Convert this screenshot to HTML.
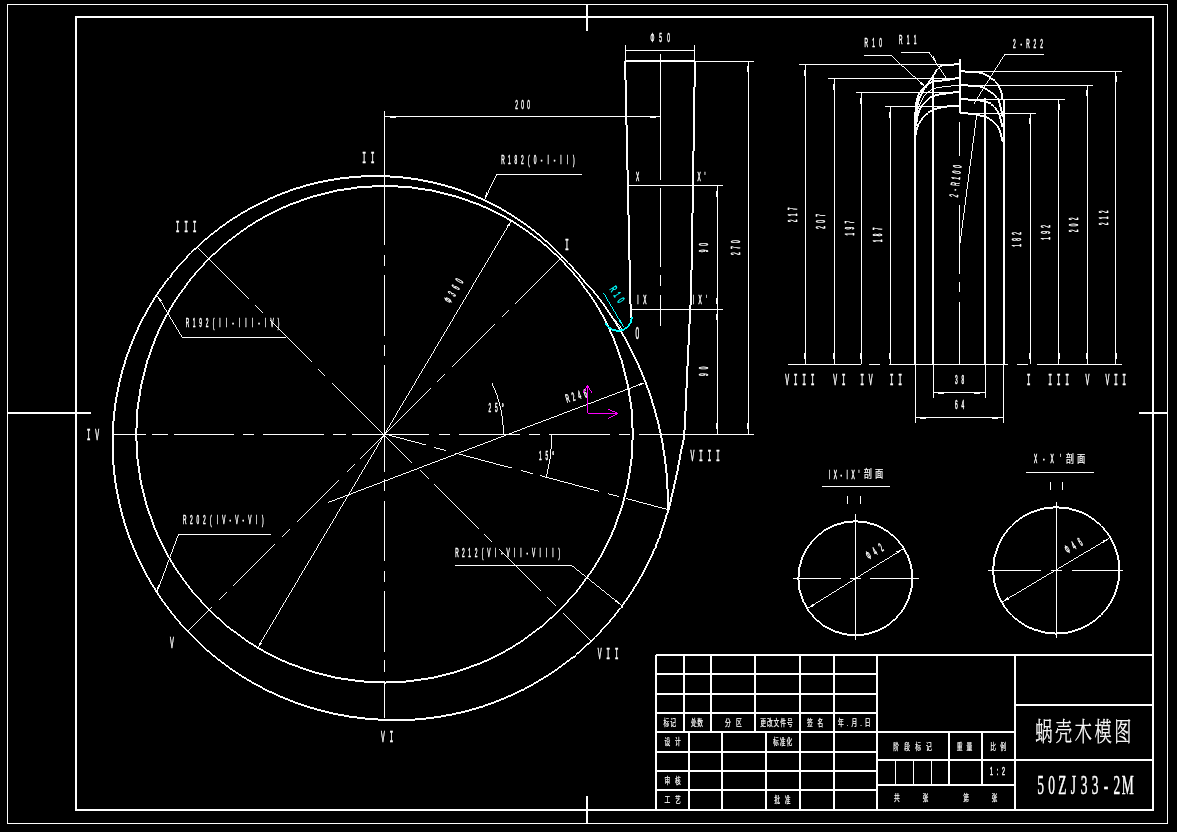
<!DOCTYPE html>
<html lang="zh"><head><meta charset="utf-8"><title>蜗壳木模图 50ZJ33-2M</title>
<style>
html,body{margin:0;padding:0;background:#000;overflow:hidden}
svg{display:block;opacity:.999;will-change:transform}
text{stroke:#fff;stroke-width:.45px;vector-effect:non-scaling-stroke;font-family:"Liberation Sans","Noto Sans CJK SC",sans-serif;fill:#fff;text-anchor:middle}
</style></head><body>
<svg width="1177" height="832" viewBox="0 0 1177 832" fill="none" stroke="#fff" stroke-width="1" shape-rendering="crispEdges">
<rect x="0" y="0" width="1177" height="832" fill="#000" stroke="none"/>
<g id="frame">
<rect x="7.5" y="4.5" width="1160" height="819"/>
<rect x="76" y="17" width="1077" height="793" stroke-width="2"/>
<line x1="8" y1="413" x2="91" y2="413" stroke-width="2"/>
<line x1="1139" y1="413" x2="1168" y2="413" stroke-width="2"/>
<line x1="587" y1="4" x2="587" y2="31" stroke-width="2"/>
<line x1="587" y1="796" x2="587" y2="823" stroke-width="2"/>
</g>
<g id="volute">
<path d="M559.58 609.78 A248.31 248.31 0 0 0 559.58 258.62" stroke-width=".99"/>
<path d="M560.58 609.78 A248.31 248.31 0 0 0 560.58 258.62" stroke-width=".99"/>
<path d="M560.08 258.12 A248.31 248.31 0 0 0 208.92 258.12" stroke-width=".99"/>
<path d="M560.08 259.12 A248.31 248.31 0 0 0 208.92 259.12" stroke-width=".99"/>
<path d="M208.42 258.62 A248.31 248.31 0 0 0 208.42 609.78" stroke-width=".99"/>
<path d="M209.42 258.62 A248.31 248.31 0 0 0 209.42 609.78" stroke-width=".99"/>
<path d="M208.92 609.28 A248.31 248.31 0 0 0 560.08 609.28" stroke-width=".99"/>
<path d="M208.92 610.28 A248.31 248.31 0 0 0 560.08 610.28" stroke-width=".99"/>
<path d="M561.53 256.67 560.29 255.38 558.53 253.56 556.48 251.45 554.33 249.28" stroke-width=".99"/>
<path d="M562.53 256.67 561.29 255.38 559.53 253.56 557.48 251.45 555.33 249.28" stroke-width=".99"/>
<path d="M554.83 248.78 552.81 246.78 550.9 244.96 548.97 243.15 547.03 241.37 545.06 239.61 543.08 237.87 541.08 236.15 539.06 234.44 537.02 232.76 534.96 231.1 532.89 229.46 530.79 227.85 528.68 226.25 526.55 224.68 524.41 223.12 522.24 221.59 520.06 220.09 517.87 218.6 515.66 217.14 513.43 215.69 511.18 214.28 508.92 212.88 506.65 211.51 504.36 210.16 502.05 208.84 499.74 207.54 497.4 206.26 495.05 205.01 492.69 203.78 490.32 202.58 487.93 201.4 485.53 200.24 483.11 199.11 480.68 198.01 478.24 196.93 475.79 195.87 473.33 194.84 470.86 193.84 468.37 192.86 465.87 191.91 463.36 190.98 460.85 190.08 458.32 189.21 455.78 188.36 453.23 187.54 450.67 186.74 448.11 185.98 445.53 185.23 442.94 184.52 440.35 183.83 437.75 183.17 435.14 182.54 432.53 181.93 429.9 181.35 427.27 180.8 424.64 180.27 422 179.77 419.35 179.3 416.69 178.86 414.03 178.45 411.37 178.06 408.7 177.7 406.02 177.37 403.35 177.07 400.66 176.79 397.98 176.55 395.29 176.33 392.59 176.14 389.9 175.97 387.2 175.84 384.5 175.73 381.8 175.66 379.09 175.61 376.39 175.59 373.68 175.59 370.98 175.63 368.27 175.69 365.56 175.78 362.85 175.91 360.14 176.05 357.44 176.23 354.73 176.44 352.03 176.67 349.33 176.94 346.63 177.23 343.93 177.55 341.23 177.9 338.54 178.27 335.85 178.68 333.17 179.11 330.48 179.57 327.81 180.06 325.13 180.58 322.46 181.13 319.8 181.7 317.14 182.3 314.49 182.93 311.84 183.59 309.19 184.28 306.56 184.99 303.93 185.74 301.31 186.51 298.7 187.3 296.09 188.13 293.49 188.98 290.9 189.86 288.32 190.77 285.74 191.71 283.18 192.67 280.62 193.66 278.08 194.68 275.54 195.72 273.02 196.79 270.5 197.89 268 199.01 265.51 200.16 263.03 201.34 260.56 202.54 258.1 203.77 255.65 205.03 253.22 206.31 250.8 207.62 248.39 208.95 245.99 210.31 243.61 211.7 241.25 213.11 238.89 214.54 236.56 216.01 234.23 217.49 231.92 219 229.63 220.54 227.35 222.1 225.09 223.68 222.84 225.29 220.61 226.92 218.39 228.58 216.2 230.26 214.02 231.96 211.85 233.69 209.71 235.44 207.58 237.21 205.47 239 203.38 240.82 201.3 242.66 199.25 244.53 197.21 246.41 195.2 248.32 193.2 250.25 191.22 252.2" stroke-width=".99"/>
<path d="M554.83 249.78 552.81 247.78 550.9 245.96 548.97 244.15 547.03 242.37 545.06 240.61 543.08 238.87 541.08 237.15 539.06 235.44 537.02 233.76 534.96 232.1 532.89 230.46 530.79 228.85 528.68 227.25 526.55 225.68 524.41 224.12 522.24 222.59 520.06 221.09 517.87 219.6 515.66 218.14 513.43 216.69 511.18 215.28 508.92 213.88 506.65 212.51 504.36 211.16 502.05 209.84 499.74 208.54 497.4 207.26 495.05 206.01 492.69 204.78 490.32 203.58 487.93 202.4 485.53 201.24 483.11 200.11 480.68 199.01 478.24 197.93 475.79 196.87 473.33 195.84 470.86 194.84 468.37 193.86 465.87 192.91 463.36 191.98 460.85 191.08 458.32 190.21 455.78 189.36 453.23 188.54 450.67 187.74 448.11 186.98 445.53 186.23 442.94 185.52 440.35 184.83 437.75 184.17 435.14 183.54 432.53 182.93 429.9 182.35 427.27 181.8 424.64 181.27 422 180.77 419.35 180.3 416.69 179.86 414.03 179.45 411.37 179.06 408.7 178.7 406.02 178.37 403.35 178.07 400.66 177.79 397.98 177.55 395.29 177.33 392.59 177.14 389.9 176.97 387.2 176.84 384.5 176.73 381.8 176.66 379.09 176.61 376.39 176.59 373.68 176.59 370.98 176.63 368.27 176.69 365.56 176.78 362.85 176.91 360.14 177.05 357.44 177.23 354.73 177.44 352.03 177.67 349.33 177.94 346.63 178.23 343.93 178.55 341.23 178.9 338.54 179.27 335.85 179.68 333.17 180.11 330.48 180.57 327.81 181.06 325.13 181.58 322.46 182.13 319.8 182.7 317.14 183.3 314.49 183.93 311.84 184.59 309.19 185.28 306.56 185.99 303.93 186.74 301.31 187.51 298.7 188.3 296.09 189.13 293.49 189.98 290.9 190.86 288.32 191.77 285.74 192.71 283.18 193.67 280.62 194.66 278.08 195.68 275.54 196.72 273.02 197.79 270.5 198.89 268 200.01 265.51 201.16 263.03 202.34 260.56 203.54 258.1 204.77 255.65 206.03 253.22 207.31 250.8 208.62 248.39 209.95 245.99 211.31 243.61 212.7 241.25 214.11 238.89 215.54 236.56 217.01 234.23 218.49 231.92 220 229.63 221.54 227.35 223.1 225.09 224.68 222.84 226.29 220.61 227.92 218.39 229.58 216.2 231.26 214.02 232.96 211.85 234.69 209.71 236.44 207.58 238.21 205.47 240 203.38 241.82 201.3 243.66 199.25 245.53 197.21 247.41 195.2 249.32 193.2 251.25 191.22 253.2" stroke-width=".99"/>
<path d="M190.72 252.7 188.76 254.67 186.83 256.66 184.91 258.68 183.01 260.71 181.14 262.77 179.28 264.84 177.45 266.94 175.64 269.05 173.84 271.19 172.08 273.34 170.33 275.51 168.6 277.71 166.9 279.92 165.22 282.15 163.57 284.39 161.93 286.66 160.32 288.94 158.74 291.24 157.17 293.56 155.64 295.9 154.12 298.25 152.63 300.62 151.16 303 149.72 305.4 148.3 307.82 146.91 310.25 145.55 312.7 144.2 315.16 142.89 317.64 141.6 320.13 140.33 322.64 139.09 325.16 137.88 327.69 136.69 330.24 135.53 332.8 134.4 335.38 133.29 337.96 132.21 340.56 131.16 343.17 130.13 345.79 129.13 348.43 128.16 351.07 127.22 353.73 126.3 356.4 125.41 359.07 124.55 361.76 123.72 364.46 122.91 367.16 122.14 369.88 121.39 372.61 120.67 375.34 119.98 378.08 119.31 380.83 118.68 383.59 118.07 386.35 117.49 389.12 116.95 391.9 116.43 394.69 115.94 397.48 115.48 400.28 115.04 403.08 114.64 405.89 114.27 408.7 113.92 411.52 113.61 414.34 113.33 417.17 113.07 420 112.84 422.83 112.65 425.67 112.48 428.51 112.35 431.36 112.24 434.2 112.16 437.05 112.11 439.89 112.1 442.75 112.11 445.6 112.15 448.45 112.22 451.3 112.33 454.15 112.46 457 112.62 459.85 112.81 462.7 113.03 465.55 113.29 468.4 113.57 471.24 113.88 474.09 114.22 476.93 114.59 479.77 114.99 482.6 115.43 485.43 115.89 488.26 116.38 491.08 116.9 493.9 117.45 496.72 118.03 499.53 118.64 502.33 119.28 505.13 119.95 507.92 120.64 510.71 121.37 513.49 122.13 516.27 122.92 519.03 123.73 521.79 124.58 524.54 125.45 527.28 126.35 530.02 127.28 532.74 128.24 535.46 129.23 538.17 130.25 540.87 131.3 543.55 132.37 546.23 133.48 548.9 134.61 551.55 135.77 554.2 136.96 556.83 138.17 559.46 139.41 562.07 140.69 564.66 141.99 567.25 143.31 569.82 144.67 572.38 146.05 574.92 147.45 577.46 148.89 579.98 150.35 582.48 151.84 584.97 153.35 587.44 154.9 589.9 156.46 592.34 158.06 594.77 159.68 597.18 161.32 599.58 162.99 601.95 164.69 604.32 166.41 606.66 168.16 608.99 169.93 611.3 171.72 613.59 173.54 615.86 175.39 618.12 177.26 620.35 179.15 622.57 181.07 624.77 183.01 626.94 184.97 629.1 186.96 631.24 188.97 633.36 191 635.46 193.06 637.54" stroke-width=".99"/>
<path d="M191.72 252.7 189.76 254.67 187.83 256.66 185.91 258.68 184.01 260.71 182.14 262.77 180.28 264.84 178.45 266.94 176.64 269.05 174.84 271.19 173.08 273.34 171.33 275.51 169.6 277.71 167.9 279.92 166.22 282.15 164.57 284.39 162.93 286.66 161.32 288.94 159.74 291.24 158.17 293.56 156.64 295.9 155.12 298.25 153.63 300.62 152.16 303 150.72 305.4 149.3 307.82 147.91 310.25 146.55 312.7 145.2 315.16 143.89 317.64 142.6 320.13 141.33 322.64 140.09 325.16 138.88 327.69 137.69 330.24 136.53 332.8 135.4 335.38 134.29 337.96 133.21 340.56 132.16 343.17 131.13 345.79 130.13 348.43 129.16 351.07 128.22 353.73 127.3 356.4 126.41 359.07 125.55 361.76 124.72 364.46 123.91 367.16 123.14 369.88 122.39 372.61 121.67 375.34 120.98 378.08 120.31 380.83 119.68 383.59 119.07 386.35 118.49 389.12 117.95 391.9 117.43 394.69 116.94 397.48 116.48 400.28 116.04 403.08 115.64 405.89 115.27 408.7 114.92 411.52 114.61 414.34 114.33 417.17 114.07 420 113.84 422.83 113.65 425.67 113.48 428.51 113.35 431.36 113.24 434.2 113.16 437.05 113.11 439.89 113.1 442.75 113.11 445.6 113.15 448.45 113.22 451.3 113.33 454.15 113.46 457 113.62 459.85 113.81 462.7 114.03 465.55 114.29 468.4 114.57 471.24 114.88 474.09 115.22 476.93 115.59 479.77 115.99 482.6 116.43 485.43 116.89 488.26 117.38 491.08 117.9 493.9 118.45 496.72 119.03 499.53 119.64 502.33 120.28 505.13 120.95 507.92 121.64 510.71 122.37 513.49 123.13 516.27 123.92 519.03 124.73 521.79 125.58 524.54 126.45 527.28 127.35 530.02 128.28 532.74 129.24 535.46 130.23 538.17 131.25 540.87 132.3 543.55 133.37 546.23 134.48 548.9 135.61 551.55 136.77 554.2 137.96 556.83 139.17 559.46 140.41 562.07 141.69 564.66 142.99 567.25 144.31 569.82 145.67 572.38 147.05 574.92 148.45 577.46 149.89 579.98 151.35 582.48 152.84 584.97 154.35 587.44 155.9 589.9 157.46 592.34 159.06 594.77 160.68 597.18 162.32 599.58 163.99 601.95 165.69 604.32 167.41 606.66 169.16 608.99 170.93 611.3 172.72 613.59 174.54 615.86 176.39 618.12 178.26 620.35 180.15 622.57 182.07 624.77 184.01 626.94 185.97 629.1 187.96 631.24 189.97 633.36 192 635.46 194.06 637.54" stroke-width=".99"/>
<path d="M193.56 637.04 195.63 639.09 197.73 641.13 199.85 643.14 202 645.13 204.16 647.1 206.35 649.05 208.56 650.97 210.78 652.88 213.03 654.76 215.3 656.61 217.59 658.45 219.9 660.26 222.23 662.04 224.57 663.8 226.94 665.54 229.33 667.26 231.73 668.95 234.15 670.61 236.59 672.25 239.05 673.86 241.53 675.45 244.02 677.02 246.53 678.55 249.06 680.07 251.6 681.55 254.16 683.01 256.74 684.45 259.33 685.85 261.94 687.23 264.56 688.58 267.2 689.91 269.85 691.21 272.52 692.48 275.2 693.72 277.89 694.94 280.6 696.13 283.32 697.28 286.05 698.42 288.8 699.52 291.56 700.59 294.33 701.64 297.11 702.66 299.9 703.64 302.71 704.6 305.53 705.53 308.35 706.43 311.19 707.31 314.03 708.15 316.89 708.96 319.76 709.74 322.63 710.49 325.51 711.22 328.4 711.91 331.3 712.57 334.21 713.2 337.12 713.81 340.04 714.38 342.97 714.92 345.91 715.43 348.85 715.91 351.8 716.36 354.75 716.78 357.7 717.17 360.67 717.52 363.63 717.85 366.61 718.14 369.58 718.41 372.47 718.64 375.27 718.83 378.12 719 381.15 719.14 384.5 719.26 387.19 719.34 390.13 719.41 393.22 719.47 396.35 719.52 399.43 719.55 402.37 719.56 405.05 719.53 408.37 719.44 411.36 719.29 414.17 719.1 416.94 718.87 419.79 718.63 422.73 718.35 425.67 718.05 428.6 717.72 431.53 717.35 434.46 716.95 437.38 716.53 440.3 716.07 443.22 715.58 446.13 715.07 449.03 714.52 451.92 713.94 454.81 713.33 457.7 712.69 460.58 712.02 463.45 711.32 466.31 710.59 469.16 709.83 472.01 709.04 474.85 708.22 477.68 707.37 480.5 706.5 483.31 705.59 486.11 704.65 488.9 703.68 491.68 702.69 494.45 701.66 497.21 700.61 499.96 699.53 502.7 698.41 505.43 697.27 508.14 696.11 510.84 694.91 513.53 693.68 516.2 692.43 518.86 691.15 521.51 689.84 524.15 688.5 526.77 687.14 529.37 685.75 531.96 684.33 534.54 682.88 537.1 681.41 539.65 679.91 542.18 678.39 544.69 676.83 547.19 675.26 549.67 673.65 552.13 672.02 554.58 670.36 557.01 668.68 559.42 666.98 561.81 665.24 564.18 663.49 566.54 661.7 568.88 659.9 571.2 658.07 573.5 656.21 575.78 654.33 578.04 652.43 580.27 650.5 582.49 648.55 584.69 646.58 586.87 644.58 589.03 642.57 591.16 640.53 593.28 638.46 595.37 636.38" stroke-width=".99"/>
<path d="M193.56 638.04 195.63 640.09 197.73 642.13 199.85 644.14 202 646.13 204.16 648.1 206.35 650.05 208.56 651.97 210.78 653.88 213.03 655.76 215.3 657.61 217.59 659.45 219.9 661.26 222.23 663.04 224.57 664.8 226.94 666.54 229.33 668.26 231.73 669.95 234.15 671.61 236.59 673.25 239.05 674.86 241.53 676.45 244.02 678.02 246.53 679.55 249.06 681.07 251.6 682.55 254.16 684.01 256.74 685.45 259.33 686.85 261.94 688.23 264.56 689.58 267.2 690.91 269.85 692.21 272.52 693.48 275.2 694.72 277.89 695.94 280.6 697.13 283.32 698.28 286.05 699.42 288.8 700.52 291.56 701.59 294.33 702.64 297.11 703.66 299.9 704.64 302.71 705.6 305.53 706.53 308.35 707.43 311.19 708.31 314.03 709.15 316.89 709.96 319.76 710.74 322.63 711.49 325.51 712.22 328.4 712.91 331.3 713.57 334.21 714.2 337.12 714.81 340.04 715.38 342.97 715.92 345.91 716.43 348.85 716.91 351.8 717.36 354.75 717.78 357.7 718.17 360.67 718.52 363.63 718.85 366.61 719.14 369.58 719.41 372.47 719.64 375.27 719.83 378.12 720 381.15 720.14 384.5 720.26 387.19 720.34 390.13 720.41 393.22 720.47 396.35 720.52 399.43 720.55 402.37 720.56 405.05 720.53 408.37 720.44 411.36 720.29 414.17 720.1 416.94 719.87 419.79 719.63 422.73 719.35 425.67 719.05 428.6 718.72 431.53 718.35 434.46 717.95 437.38 717.53 440.3 717.07 443.22 716.58 446.13 716.07 449.03 715.52 451.92 714.94 454.81 714.33 457.7 713.69 460.58 713.02 463.45 712.32 466.31 711.59 469.16 710.83 472.01 710.04 474.85 709.22 477.68 708.37 480.5 707.5 483.31 706.59 486.11 705.65 488.9 704.68 491.68 703.69 494.45 702.66 497.21 701.61 499.96 700.53 502.7 699.41 505.43 698.27 508.14 697.11 510.84 695.91 513.53 694.68 516.2 693.43 518.86 692.15 521.51 690.84 524.15 689.5 526.77 688.14 529.37 686.75 531.96 685.33 534.54 683.88 537.1 682.41 539.65 680.91 542.18 679.39 544.69 677.83 547.19 676.26 549.67 674.65 552.13 673.02 554.58 671.36 557.01 669.68 559.42 667.98 561.81 666.24 564.18 664.49 566.54 662.7 568.88 660.9 571.2 659.07 573.5 657.21 575.78 655.33 578.04 653.43 580.27 651.5 582.49 649.55 584.69 647.58 586.87 645.58 589.03 643.57 591.16 641.53 593.28 639.46 595.37 637.38" stroke-width=".99"/>
<path d="M594.87 636.88 596.94 634.77 598.99 632.64 601.01 630.49 603.02 628.32 605 626.13 606.96 623.92 608.89 621.68 610.8 619.43 612.69 617.16 614.55 614.87 616.39 612.55 618.21 610.22 620 607.87 621.76 605.5 623.5 603.12 625.22 600.71 626.91 598.29 628.57 595.85 630.21 593.39 631.82 590.92 633.41 588.42 634.97 585.92 636.51 583.39 638.01 580.85 639.5 578.3 640.95 575.72 642.38 573.14 643.78 570.54 645.15 567.92 646.5 565.29 647.82 562.65 649.11 559.99 650.37 557.32 651.6 554.64 652.81 551.94 653.99 549.23 655.14 546.51 656.26 543.78 657.35 541.03 658.41 538.28 659.45 535.51 660.45 532.73 661.43 529.94 662.4 527.03 663.35 523.99 664.27 521 665.12 518.23 665.87 515.86 666.79 513.44 667.49 511.81 668.4 508.8 668.93 506.67 669.53 504.12 670.17 501.29 670.84 498.29 671.51 495.22 672.17 492.22 672.8 489.4 673.41 486.73 674.01 484.09 674.61 481.48 675.21 478.89 675.79 476.3 676.35 473.7 676.9 471.1 677.42 468.49 677.92 465.88 678.41 463.27 678.88 460.66 679.35 458.05 679.82 455.43 680.3 452.8 680.8 450.34 681.31 448.11 681.83 445.93 682.34 443.63 682.83 441.02 683.29 437.94 683.7 434.2 683.89 432.03 684.06 429.67 684.23 427.14 684.38 424.47 684.53 421.67 684.67 418.78 684.81 415.81 684.94 412.8 685.07 409.76 685.19 406.71 685.32 403.69 685.44 400.72 685.57 397.81 685.7 395 685.84 392.04 685.98 389.1 686.11 386.17 686.24 383.25 686.37 380.34 686.49 377.44 686.62 374.54 686.75 371.63 686.87 368.73 687 365.81 687.13 362.89 687.26 359.95 687.4 357 687.53 354.24 687.66 351.47 687.8 348.69 687.94 345.9 688.08 343.1 688.22 340.3 688.36 337.5 688.5 334.7 688.64 331.9 688.78 329.1 688.92 326.31 689.05 323.53 689.18 320.76 689.3 318 689.43 315.24 689.55 312.82 689.67 310.64 689.78 308.59 689.89 306.59 690 304.52 690.1 302.3 690.21 299.81 690.32 296.97 690.43 293.66 690.55 289.8 690.67 285.28 690.8 280 690.85 277.95 690.89 275.79 690.94 273.54 690.99 271.2 691.04 268.76 691.09 266.24 691.14 263.65 691.19 260.97 691.24 258.23 691.29 255.41 691.34 252.54 691.39 249.6 691.45 246.62 691.5 243.58 691.55 240.5 691.6 237.37 691.66 234.21 691.71 231.02 691.76 227.8 691.82 224.55 691.87 221.29 691.92 218.01 691.98 214.72 692.03 211.43 692.08 208.13 692.14 204.84 692.19 201.55 692.24 198.27 692.3 195.01 692.35 191.77 692.4 188.55 692.45 185.36 692.5 182.21 692.55 179.09 692.6 176.01 692.65 172.98 692.7 170 692.75 167.01 692.8 163.95 692.85 160.82 692.9 157.63 692.95 154.4 693.01 151.11 693.06 147.79 693.11 144.44 693.17 141.05 693.22 137.65 693.27 134.24 693.33 130.82 693.38 127.39 693.43 123.97 693.49 120.57 693.54 117.18 693.59 113.81 693.64 110.48 693.69 107.18 693.74 103.93 693.79 100.72 693.84 97.58 693.89 94.49 693.94 91.47 693.98 88.53 694.03 85.67 694.07 82.9 694.11 80.22 694.15 77.64 694.19 75.17 694.22 72.81 694.26 70.58 694.29 68.46 694.32 66.48 694.35 64.64 694.38 62.95 694.4 61.4" stroke-width=".99"/>
<path d="M595.87 636.88 597.94 634.77 599.99 632.64 602.01 630.49 604.02 628.32 606 626.13 607.96 623.92 609.89 621.68 611.8 619.43 613.69 617.16 615.55 614.87 617.39 612.55 619.21 610.22 621 607.87 622.76 605.5 624.5 603.12 626.22 600.71 627.91 598.29 629.57 595.85 631.21 593.39 632.82 590.92 634.41 588.42 635.97 585.92 637.51 583.39 639.01 580.85 640.5 578.3 641.95 575.72 643.38 573.14 644.78 570.54 646.15 567.92 647.5 565.29 648.82 562.65 650.11 559.99 651.37 557.32 652.6 554.64 653.81 551.94 654.99 549.23 656.14 546.51 657.26 543.78 658.35 541.03 659.41 538.28 660.45 535.51 661.45 532.73 662.43 529.94 663.4 527.03 664.35 523.99 665.27 521 666.12 518.23 666.87 515.86 667.79 513.44 668.49 511.81 669.4 508.8 669.93 506.67 670.53 504.12 671.17 501.29 671.84 498.29 672.51 495.22 673.17 492.22 673.8 489.4 674.41 486.73 675.01 484.09 675.61 481.48 676.21 478.89 676.79 476.3 677.35 473.7 677.9 471.1 678.42 468.49 678.92 465.88 679.41 463.27 679.88 460.66 680.35 458.05 680.82 455.43 681.3 452.8 681.8 450.34 682.31 448.11 682.83 445.93 683.34 443.63 683.83 441.02 684.29 437.94 684.7 434.2 684.89 432.03 685.06 429.67 685.23 427.14 685.38 424.47 685.53 421.67 685.67 418.78 685.81 415.81 685.94 412.8 686.07 409.76 686.19 406.71 686.32 403.69 686.44 400.72 686.57 397.81 686.7 395 686.84 392.04 686.98 389.1 687.11 386.17 687.24 383.25 687.37 380.34 687.49 377.44 687.62 374.54 687.75 371.63 687.87 368.73 688 365.81 688.13 362.89 688.26 359.95 688.4 357 688.53 354.24 688.66 351.47 688.8 348.69 688.94 345.9 689.08 343.1 689.22 340.3 689.36 337.5 689.5 334.7 689.64 331.9 689.78 329.1 689.92 326.31 690.05 323.53 690.18 320.76 690.3 318 690.43 315.24 690.55 312.82 690.67 310.64 690.78 308.59 690.89 306.59 691 304.52 691.1 302.3 691.21 299.81 691.32 296.97 691.43 293.66 691.55 289.8 691.67 285.28 691.8 280 691.85 277.95 691.89 275.79 691.94 273.54 691.99 271.2 692.04 268.76 692.09 266.24 692.14 263.65 692.19 260.97 692.24 258.23 692.29 255.41 692.34 252.54 692.39 249.6 692.45 246.62 692.5 243.58 692.55 240.5 692.6 237.37 692.66 234.21 692.71 231.02 692.76 227.8 692.82 224.55 692.87 221.29 692.92 218.01 692.98 214.72 693.03 211.43 693.08 208.13 693.14 204.84 693.19 201.55 693.24 198.27 693.3 195.01 693.35 191.77 693.4 188.55 693.45 185.36 693.5 182.21 693.55 179.09 693.6 176.01 693.65 172.98 693.7 170 693.75 167.01 693.8 163.95 693.85 160.82 693.9 157.63 693.95 154.4 694.01 151.11 694.06 147.79 694.11 144.44 694.17 141.05 694.22 137.65 694.27 134.24 694.33 130.82 694.38 127.39 694.43 123.97 694.49 120.57 694.54 117.18 694.59 113.81 694.64 110.48 694.69 107.18 694.74 103.93 694.79 100.72 694.84 97.58 694.89 94.49 694.94 91.47 694.98 88.53 695.03 85.67 695.07 82.9 695.11 80.22 695.15 77.64 695.19 75.17 695.22 72.81 695.26 70.58 695.29 68.46 695.32 66.48 695.35 64.64 695.38 62.95 695.4 61.4" stroke-width=".99"/>
<path d="M562 256.7 C565 259.92 573.98 269.17 580 276 C586.02 282.83 592.68 290.88 598.1 297.7 C603.52 304.52 608.5 311.68 612.5 316.9 C616.5 322.12 620.5 326.98 622.1 329" stroke-width="0.99"/>
<path d="M667.34 509.57 A339.8 339.8 0 0 0 567.87 263.13" stroke-width=".99"/>
<path d="M668.34 509.57 A339.8 339.8 0 0 0 568.87 263.13" stroke-width=".99"/>
<path d="M568.37 262.63 A339.8 339.8 0 0 0 562 256.42" stroke-width=".99"/>
<path d="M568.37 263.63 A339.8 339.8 0 0 0 562 257.42" stroke-width=".99"/>
<path d="M624.6 61.4 630.3 317.5" stroke-width=".99"/>
<path d="M625.6 61.4 631.3 317.5" stroke-width=".99"/>
<line x1="625" y1="61.5" x2="754" y2="61.5"/>
<line x1="625" y1="61" x2="695" y2="61" stroke-width="2"/>
<path d="M605.15 323.16 A13.8 13.8 0 0 0 607.74 326.76" stroke-width=".99" stroke="#0ff"/>
<path d="M606.15 323.16 A13.8 13.8 0 0 0 608.74 326.76" stroke-width=".99" stroke="#0ff"/>
<path d="M608.24 326.26 A13.8 13.8 0 0 0 627.76 326.26" stroke-width=".99" stroke="#0ff"/>
<path d="M608.24 327.26 A13.8 13.8 0 0 0 627.76 327.26" stroke-width=".99" stroke="#0ff"/>
<path d="M627.26 326.76 A13.8 13.8 0 0 0 631.3 317" stroke-width=".99" stroke="#0ff"/>
<path d="M628.26 326.76 A13.8 13.8 0 0 0 632.3 317" stroke-width=".99" stroke="#0ff"/>
<line x1="603.5" y1="292.9" x2="623.3" y2="326.5" stroke-width="0.99" stroke="#0ff"/>
<polygon points="623.3,326.5 618.63,321.13 620.87,319.81" fill="#0ff" stroke="none"/>
<text transform="translate(617.3 294.5) rotate(57) scale(0.5 1)" font-size="11" x="-13.6 0 13.6" y="3.74" style='fill:#0ff;stroke:#0ff;'>R10</text>
</g>
<g id="axes">
<line x1="111.5" y1="434.5" x2="145.9" y2="434.5"/>
<line x1="152.3" y1="434.5" x2="168.3" y2="434.5"/>
<line x1="173.9" y1="434.5" x2="233.8" y2="434.5"/>
<line x1="242.7" y1="434.5" x2="254.2" y2="434.5"/>
<line x1="263.1" y1="434.5" x2="324.3" y2="434.5"/>
<line x1="333.2" y1="434.5" x2="346" y2="434.5"/>
<line x1="352.4" y1="434.5" x2="429.3" y2="434.5"/>
<line x1="438.6" y1="434.5" x2="449.7" y2="434.5"/>
<line x1="459" y1="434.5" x2="520.2" y2="434.5"/>
<line x1="528.7" y1="434.5" x2="539.7" y2="434.5"/>
<line x1="549" y1="434.5" x2="609.8" y2="434.5"/>
<line x1="619.1" y1="434.5" x2="629.7" y2="434.5"/>
<line x1="639" y1="434.5" x2="753.7" y2="434.5"/>
<line x1="384.5" y1="110.8" x2="384.5" y2="245.4"/>
<line x1="384.5" y1="255" x2="384.5" y2="265.9"/>
<line x1="384.5" y1="275" x2="384.5" y2="335.5"/>
<line x1="384.5" y1="345" x2="384.5" y2="355.6"/>
<line x1="384.5" y1="365.3" x2="384.5" y2="472.4"/>
<line x1="384.5" y1="479" x2="384.5" y2="490.9"/>
<line x1="384.5" y1="500.7" x2="384.5" y2="561.4"/>
<line x1="384.5" y1="570.5" x2="384.5" y2="582.1"/>
<line x1="384.5" y1="591.2" x2="384.5" y2="651.5"/>
<line x1="384.5" y1="660.4" x2="384.5" y2="672"/>
<line x1="384.5" y1="681.1" x2="384.5" y2="718.4"/>
<line x1="660.5" y1="54" x2="660.5" y2="180"/>
<line x1="660.5" y1="187.5" x2="660.5" y2="267"/>
<line x1="660.5" y1="275" x2="660.5" y2="286"/>
<line x1="660.5" y1="295" x2="660.5" y2="326.2"/>
<line x1="187.57" y1="631.13" x2="211.26" y2="607.44" stroke-width="0.99"/>
<line x1="218.33" y1="600.37" x2="226.32" y2="592.38" stroke-width="0.99"/>
<line x1="232.9" y1="585.8" x2="275.18" y2="543.52" stroke-width="0.99"/>
<line x1="281.83" y1="536.87" x2="289.75" y2="528.95" stroke-width="0.99"/>
<line x1="296.32" y1="522.38" x2="338.61" y2="480.09" stroke-width="0.99"/>
<line x1="346.6" y1="472.1" x2="354.52" y2="464.18" stroke-width="0.99"/>
<line x1="359.75" y1="458.95" x2="430.82" y2="387.88" stroke-width="0.99"/>
<line x1="437.39" y1="381.31" x2="445.38" y2="373.32" stroke-width="0.99"/>
<line x1="451.96" y1="366.74" x2="494.24" y2="324.46" stroke-width="0.99"/>
<line x1="501.38" y1="317.32" x2="508.81" y2="309.89" stroke-width="0.99"/>
<line x1="514.89" y1="303.81" x2="561.28" y2="257.42" stroke-width="0.99"/>
<line x1="197.19" y1="246.89" x2="249.3" y2="299" stroke-width="0.99"/>
<line x1="255.38" y1="305.08" x2="263.3" y2="313" stroke-width="0.99"/>
<line x1="269.95" y1="319.65" x2="312.23" y2="361.93" stroke-width="0.99"/>
<line x1="318.81" y1="368.51" x2="326.73" y2="376.43" stroke-width="0.99"/>
<line x1="332.81" y1="382.51" x2="413.7" y2="463.4" stroke-width="0.99"/>
<line x1="420.63" y1="470.33" x2="428.91" y2="478.61" stroke-width="0.99"/>
<line x1="434.42" y1="484.12" x2="478.69" y2="528.39" stroke-width="0.99"/>
<line x1="484.77" y1="534.47" x2="492.48" y2="542.18" stroke-width="0.99"/>
<line x1="499.05" y1="548.75" x2="540.91" y2="590.61" stroke-width="0.99"/>
<line x1="547.77" y1="597.47" x2="556.04" y2="605.74" stroke-width="0.99"/>
<line x1="562.97" y1="612.67" x2="592.04" y2="641.74" stroke-width="0.99"/>
<line x1="384.5" y1="434.2" x2="426.15" y2="445.28" stroke-width="0.99"/>
<line x1="434.46" y1="447.49" x2="445.57" y2="450.45" stroke-width="0.99"/>
<line x1="455.24" y1="453.02" x2="511.97" y2="468.12" stroke-width="0.99"/>
<line x1="521.05" y1="470.53" x2="532.65" y2="473.62" stroke-width="0.99"/>
<line x1="540.38" y1="475.68" x2="598.55" y2="491.15" stroke-width="0.99"/>
<line x1="608.22" y1="493.73" x2="618.75" y2="496.53" stroke-width="0.99"/>
<line x1="626.38" y1="498.56" x2="668.81" y2="509.85" stroke-width="0.99"/>
<line x1="257.89" y1="647.44" x2="511.11" y2="220.96" stroke-width="0.99"/>
<polygon points="511.11,220.96 509.17,226.78 506.93,225.45" fill="#fff" stroke="none"/>
<polygon points="257.89,647.44 259.83,641.62 262.07,642.95" fill="#fff" stroke="none"/>
<text transform="translate(453.8 290.5) rotate(-60) scale(0.4 1)" font-size="12" x="-27.75 -9.25 9.25 27.75" y="4.08">Φ360</text>
<line x1="328.1" y1="502.5" x2="644" y2="382.9" stroke-width="0.99"/>
<polygon points="644,382.9 638.85,386.25 637.93,383.82" fill="#fff" stroke="none"/>
<text transform="translate(576.4 395.9) rotate(-16) scale(0.4 1)" font-size="12" x="-23.25 -7.75 7.75 23.25" y="4.08">R246</text>
<path d="M503.5 434.2 A119 119 0 0 0 492.09 383.34" stroke-width="0.99"/>
<text transform="translate(496.3 408) scale(0.4 1)" font-size="12" x="-16.25 0 16.25" y="4.08">25°</text>
<path d="M552 434.2 A167.5 167.5 0 0 1 546.29 477.55" stroke-width="0.99"/>
<text transform="translate(546.8 456) scale(0.4 1)" font-size="12" x="-16.25 0 16.25" y="4.08">15°</text>
</g>
<g id="ucs" stroke="#f0f">
<path d="M587.5 384.8 L587.5 413 L617.7 413" stroke-width="0.99"/>
<path d="M582.3 393 L587.5 384.5 L592.7 393" stroke-width="0.99"/>
<path d="M608.2 409 L617.7 413.5 L608.2 418.5" stroke-width="0.99"/>
</g>
<g id="dims">
<line x1="384.5" y1="116.5" x2="660.5" y2="116.5"/>
<rect x="390" y="116" width="6" height="2" fill="#fff" stroke="none"/>
<rect x="650" y="116" width="6" height="2" fill="#fff" stroke="none"/>
<text transform="translate(522.5 104.5) scale(0.4 1)" font-size="12" x="-15 0 15" y="4.08">200</text>
<line x1="625.5" y1="45" x2="625.5" y2="61"/>
<line x1="694.5" y1="45" x2="694.5" y2="61"/>
<line x1="625" y1="50.5" x2="695" y2="50.5"/>
<text transform="translate(660.5 38.3) scale(0.4 1)" font-size="12" x="-20 0 20" y="4.08">Φ50</text>
<line x1="748.5" y1="61.4" x2="748.5" y2="434.2"/>
<rect x="747" y="66" width="2" height="6" fill="#fff" stroke="none"/>
<rect x="747" y="423" width="2" height="6" fill="#fff" stroke="none"/>
<text transform="translate(735.5 247.7) rotate(-90) scale(0.4 1)" font-size="12" x="-15 0 15" y="4.08">270</text>
<line x1="628.4" y1="185.5" x2="722.7" y2="185.5"/>
<line x1="631" y1="309.5" x2="723" y2="309.5"/>
<line x1="717.5" y1="185.6" x2="717.5" y2="434.2"/>
<rect x="716" y="191" width="2" height="6" fill="#fff" stroke="none"/>
<rect x="716" y="298" width="2" height="6" fill="#fff" stroke="none"/>
<rect x="716" y="314" width="2" height="6" fill="#fff" stroke="none"/>
<rect x="716" y="423" width="2" height="6" fill="#fff" stroke="none"/>
<text transform="translate(704 247.7) rotate(-90) scale(0.4 1)" font-size="12" x="-8.19 8.19" y="4.08">90</text>
<text transform="translate(704 371.3) rotate(-90) scale(0.4 1)" font-size="12" x="-8.19 8.19" y="4.08">90</text>
<text transform="translate(637.7 176.6) scale(0.4 1)" font-size="12" x="0" y="4.08">X</text>
<text transform="translate(702 176.6) scale(0.4 1)" font-size="12" x="-7.5 7.5" y="4.08">X'</text>
<text transform="translate(641.3 300.2) scale(0.4 1)" font-size="12" x="-8.75 8.75" y="4.08">IX</text>
<text transform="translate(700 300.2) scale(0.4 1)" font-size="12" x="-16.25 0 16.25" y="4.08">IX'</text>
<text transform="translate(637.2 334) scale(0.4 1)" font-size="16" x="0" y="5.44">0</text>
<text transform="translate(567 245) scale(0.4 1)" font-size="16" x="0" y="5.44" style='font-family:"Liberation Mono",monospace;'>I</text>
<text transform="translate(368.4 158) scale(0.4 1)" font-size="16" x="-10.62 10.62" y="5.44" style='font-family:"Liberation Mono",monospace;'>II</text>
<text transform="translate(186.2 226.4) scale(0.4 1)" font-size="16" x="-21.25 0 21.25" y="5.44" style='font-family:"Liberation Mono",monospace;'>III</text>
<text transform="translate(93 435) scale(0.4 1)" font-size="16" x="-10.62 10.62" y="5.44" style='font-family:"Liberation Mono",monospace;'>IV</text>
<text transform="translate(172 642.7) scale(0.4 1)" font-size="16" x="0" y="5.44" style='font-family:"Liberation Mono",monospace;'>V</text>
<text transform="translate(387.1 736.3) scale(0.4 1)" font-size="16" x="-10.62 10.62" y="5.44" style='font-family:"Liberation Mono",monospace;'>VI</text>
<text transform="translate(608.2 653.5) scale(0.4 1)" font-size="16" x="-21.25 0 21.25" y="5.44" style='font-family:"Liberation Mono",monospace;'>VII</text>
<text transform="translate(705.2 455.1) scale(0.4 1)" font-size="16" x="-31.88 -10.62 10.62 31.88" y="5.44" style='font-family:"Liberation Mono",monospace;'>VIII</text>
<line x1="496" y1="174.5" x2="582" y2="174.5"/>
<line x1="496" y1="174.5" x2="484.5" y2="199" stroke-width="0.99"/>
<polygon points="484.5,199 486.28,192.11 488.63,193.2" fill="#fff" stroke="none"/>
<text transform="translate(538.4 160) scale(0.4 1)" font-size="12" x="-88.69 -72.56 -56.44 -40.31 -24.19 -8.06 8.06 24.19 40.31 56.44 72.56 88.69" y="4.08">R182(0-I-II)</text>
<line x1="182.2" y1="337.5" x2="285.7" y2="337.5"/>
<line x1="182.2" y1="337.5" x2="157.4" y2="295.7" stroke-width="0.99"/>
<polygon points="157.4,295.7 162.08,301.06 159.85,302.39" fill="#fff" stroke="none"/>
<text transform="translate(233 323.1) scale(0.4 1)" font-size="12" x="-113.75 -97.5 -81.25 -65 -48.75 -32.5 -16.25 0 16.25 32.5 48.75 65 81.25 97.5 113.75" y="4.08">R192(II-III-IV)</text>
<line x1="178" y1="534.5" x2="271.3" y2="534.5"/>
<line x1="178" y1="534.5" x2="156.8" y2="591.6" stroke-width="0.99"/>
<polygon points="156.8,591.6 158.01,584.58 160.45,585.49" fill="#fff" stroke="none"/>
<text transform="translate(223.8 520.1) scale(0.4 1)" font-size="12" x="-97.5 -81.25 -65 -48.75 -32.5 -16.25 0 16.25 32.5 48.75 65 81.25 97.5" y="4.08">R202(IV-V-VI)</text>
<line x1="454.8" y1="565.5" x2="571.7" y2="565.5"/>
<line x1="571.7" y1="565.5" x2="620.7" y2="604.7" stroke-width="0.99"/>
<polygon points="620.7,604.7 614.44,601.3 616.08,599.28" fill="#fff" stroke="none"/>
<text transform="translate(508.1 552.5) scale(0.4 1)" font-size="12" x="-128 -112 -96 -80 -64 -48 -32 -16 0 16 32 48 64 80 96 112 128" y="4.08">R212(VI-VII-VIII)</text>
</g>
<g id="section">
<line x1="788" y1="364.5" x2="860.6" y2="364.5"/>
<line x1="869.2" y1="364.5" x2="880" y2="364.5"/>
<line x1="889.3" y1="364.5" x2="1007.9" y2="364.5"/>
<line x1="1017.2" y1="364.5" x2="1027.6" y2="364.5"/>
<line x1="1037" y1="364.5" x2="1122" y2="364.5"/>
<line x1="915" y1="112" x2="915" y2="364.4" stroke-width="2"/>
<line x1="1004" y1="100" x2="1004" y2="364.4" stroke-width="2"/>
<line x1="933" y1="76.3" x2="933" y2="364.4" stroke-width="2"/>
<line x1="985" y1="98" x2="985" y2="364.4" stroke-width="2"/>
<line x1="915.5" y1="364.4" x2="915.5" y2="423.2"/>
<line x1="1003.5" y1="364.4" x2="1003.5" y2="423.2"/>
<line x1="933.5" y1="364.4" x2="933.5" y2="397.6"/>
<line x1="985.5" y1="364.4" x2="985.5" y2="397.6"/>
<line x1="960" y1="59.2" x2="960" y2="113.3" stroke-width="2"/>
<line x1="959.5" y1="121.8" x2="959.5" y2="156.3"/>
<line x1="959.5" y1="204.8" x2="959.5" y2="274.3"/>
<line x1="959.5" y1="282.2" x2="959.5" y2="292"/>
<line x1="959.5" y1="302" x2="959.5" y2="364"/>
<line x1="799.4" y1="64.5" x2="959.5" y2="64.5"/>
<line x1="805.5" y1="64.5" x2="805.5" y2="364.4"/>
<rect x="804" y="70" width="2" height="6" fill="#fff" stroke="none"/>
<rect x="804" y="353" width="2" height="6" fill="#fff" stroke="none"/>
<line x1="828" y1="78.5" x2="959.5" y2="78.5"/>
<line x1="834.5" y1="78.5" x2="834.5" y2="364.4"/>
<rect x="833" y="84" width="2" height="6" fill="#fff" stroke="none"/>
<rect x="833" y="353" width="2" height="6" fill="#fff" stroke="none"/>
<line x1="856.4" y1="92.5" x2="959.5" y2="92.5"/>
<line x1="861.5" y1="92.5" x2="861.5" y2="364.4"/>
<rect x="860" y="98" width="2" height="6" fill="#fff" stroke="none"/>
<rect x="860" y="353" width="2" height="6" fill="#fff" stroke="none"/>
<line x1="885" y1="106.5" x2="959.5" y2="106.5"/>
<line x1="890.5" y1="106.5" x2="890.5" y2="364.4"/>
<rect x="889" y="112" width="2" height="6" fill="#fff" stroke="none"/>
<rect x="889" y="353" width="2" height="6" fill="#fff" stroke="none"/>
<line x1="959.5" y1="71.5" x2="1122" y2="71.5"/>
<line x1="1115.5" y1="71.5" x2="1115.5" y2="364.4"/>
<rect x="1115" y="76" width="2" height="6" fill="#fff" stroke="none"/>
<rect x="1115" y="353" width="2" height="6" fill="#fff" stroke="none"/>
<line x1="959.5" y1="85.5" x2="1092.6" y2="85.5"/>
<line x1="1087.5" y1="85.5" x2="1087.5" y2="364.4"/>
<rect x="1086" y="90" width="2" height="6" fill="#fff" stroke="none"/>
<rect x="1086" y="353" width="2" height="6" fill="#fff" stroke="none"/>
<line x1="959.5" y1="99.5" x2="1064.6" y2="99.5"/>
<line x1="1058.5" y1="99.5" x2="1058.5" y2="364.4"/>
<rect x="1058" y="104" width="2" height="6" fill="#fff" stroke="none"/>
<rect x="1058" y="353" width="2" height="6" fill="#fff" stroke="none"/>
<line x1="959.5" y1="113.5" x2="1035.6" y2="113.5"/>
<line x1="1030.5" y1="113.5" x2="1030.5" y2="364.4"/>
<rect x="1029" y="118" width="2" height="6" fill="#fff" stroke="none"/>
<rect x="1029" y="353" width="2" height="6" fill="#fff" stroke="none"/>
<text transform="translate(792.5 215) rotate(-90) scale(0.4 1)" font-size="12" x="-15 0 15" y="4.08">217</text>
<text transform="translate(821.2 221.3) rotate(-90) scale(0.4 1)" font-size="12" x="-15 0 15" y="4.08">207</text>
<text transform="translate(849.5 228.2) rotate(-90) scale(0.4 1)" font-size="12" x="-15 0 15" y="4.08">197</text>
<text transform="translate(878.2 235) rotate(-90) scale(0.4 1)" font-size="12" x="-15 0 15" y="4.08">187</text>
<text transform="translate(1017.2 239.3) rotate(-90) scale(0.4 1)" font-size="12" x="-15 0 15" y="4.08">182</text>
<text transform="translate(1046 232.4) rotate(-90) scale(0.4 1)" font-size="12" x="-15 0 15" y="4.08">192</text>
<text transform="translate(1074.3 224.8) rotate(-90) scale(0.4 1)" font-size="12" x="-15 0 15" y="4.08">202</text>
<text transform="translate(1103.7 217.8) rotate(-90) scale(0.4 1)" font-size="12" x="-15 0 15" y="4.08">212</text>
<path d="M959.5 63.8 958.29 63.85 956.61 63.91 954.6 63.97 952.41 64.05 950.18 64.15 948.03 64.27 946.13 64.42 944.6 64.6 942.52 64.93 941.16 65.28 940.07 65.88 938.8 67" stroke-width=".99"/>
<path d="M959.5 64.8 958.29 64.85 956.61 64.91 954.6 64.97 952.41 65.05 950.18 65.15 948.03 65.27 946.13 65.42 944.6 65.6 942.52 65.93 941.16 66.28 940.07 66.88 938.8 68" stroke-width=".99"/>
<path d="M938.3 67.5 937.28 68.64 936.23 70.07 935.17 71.68 934.11 73.39 933.05 75.09 932 76.7 930.93 78.29 929.84 79.97 928.75 81.64 927.69 83.23 926.7 84.64 925.8 85.8" stroke-width=".99"/>
<path d="M939.3 67.5 938.28 68.64 937.23 70.07 936.17 71.68 935.11 73.39 934.05 75.09 933 76.7 931.93 78.29 930.84 79.97 929.75 81.64 928.69 83.23 927.7 84.64 926.8 85.8" stroke-width=".99"/>
<path d="M926.3 85.3 924.84 86.55 923.64 87.11 922.4 88.2" stroke-width=".99"/>
<path d="M926.3 86.3 924.84 87.55 923.64 88.11 922.4 89.2" stroke-width=".99"/>
<path d="M921.9 88.7 921.03 89.93 920.09 91.44 919.17 93.1 918.31 94.79 917.6 96.4 916.92 98.32 916.41 100.24 916.02 102.14 915.7 104 915.46 105.96 915.33 107.97 915.26 109.76 915.2 111" stroke-width=".99"/>
<path d="M922.9 88.7 922.03 89.93 921.09 91.44 920.17 93.1 919.31 94.79 918.6 96.4 917.92 98.32 917.41 100.24 917.02 102.14 916.7 104 916.46 105.96 916.33 107.97 916.26 109.76 916.2 111" stroke-width=".99"/>
<path d="M959.5 77.2 958.33 77.41 956.75 77.7 954.86 78.05 952.79 78.43 950.63 78.81 948.5 79.18 946.5 79.5 944.54 79.76 942.49 79.97 940.41 80.15 938.36 80.35 936.4 80.59 934.59 80.9 933 81.3 931.16 81.99 929.66 82.77 928.37 83.68 927.19 84.74" stroke-width=".99"/>
<path d="M959.5 78.2 958.33 78.41 956.75 78.7 954.86 79.05 952.79 79.43 950.63 79.81 948.5 80.18 946.5 80.5 944.54 80.76 942.49 80.97 940.41 81.15 938.36 81.35 936.4 81.59 934.59 81.9 933 82.3 931.16 82.99 929.66 83.77 928.37 84.68 927.19 85.74" stroke-width=".99"/>
<path d="M926.69 85.24 925.5 86.5 924.48 87.73 923.5 89.13 922.56 90.64 921.67 92.23 920.85 93.83 920.1 95.4 919.43 96.94 918.84 98.5 918.32 100.07 917.84 101.67 917.41 103.31 917 105 916.62 106.88 916.27 108.97 915.96 111.1 915.69 113.1 915.47 114.79 915.3 116" stroke-width=".99"/>
<path d="M927.69 85.24 926.5 86.5 925.48 87.73 924.5 89.13 923.56 90.64 922.67 92.23 921.85 93.83 921.1 95.4 920.43 96.94 919.84 98.5 919.32 100.07 918.84 101.67 918.41 103.31 918 105 917.62 106.88 917.27 108.97 916.96 111.1 916.69 113.1 916.47 114.79 916.3 116" stroke-width=".99"/>
<path d="M959.5 85.4 C957.25 85.58 950.42 85.9 946 86.5 C941.58 87.1 936.5 87.58 933 89 C929.5 90.42 927.17 92.5 925 95 C922.83 97.5 921.33 101 920 104 C918.67 107 917.7 110.17 917 113 C916.3 115.83 916 119.67 915.8 121" stroke-width="0.99"/>
<path d="M959.5 91.2 958.28 91.36 956.61 91.56 954.63 91.81 952.46 92.09 950.21 92.38 948.02 92.69 946 93 944.06 93.3 942.05 93.6 940.03 93.92 938.06 94.25 936.19 94.62 934.49 95.03 933 95.5 930.97 96.49 929.45 97.64 928.21 98.85 927 100 925.41 101.41 924.03 102.78" stroke-width=".99"/>
<path d="M959.5 92.2 958.28 92.36 956.61 92.56 954.63 92.81 952.46 93.09 950.21 93.38 948.02 93.69 946 94 944.06 94.3 942.05 94.6 940.03 94.92 938.06 95.25 936.19 95.62 934.49 96.03 933 96.5 930.97 97.49 929.45 98.64 928.21 99.85 927 101 925.41 102.41 924.03 103.78" stroke-width=".99"/>
<path d="M923.53 103.28 922.3 104.7 921.23 106.2 920.31 107.74 919.5 109.3 918.78 110.79 918.16 112.29 917.6 114 917.2 115.54 916.84 117.26 916.5 118.99 916.2 120.6 915.83 122.69 915.51 124.64 915.3 126" stroke-width=".99"/>
<path d="M924.53 103.28 923.3 104.7 922.23 106.2 921.31 107.74 920.5 109.3 919.78 110.79 919.16 112.29 918.6 114 918.2 115.54 917.84 117.26 917.5 118.99 917.2 120.6 916.83 122.69 916.51 124.64 916.3 126" stroke-width=".99"/>
<path d="M959.5 105.2 958.34 105.26 956.75 105.34 954.85 105.43 952.79 105.54 950.7 105.67 948.73 105.82 947 106 944.88 106.31 942.87 106.68 941 107.09 939.27 107.5 937.7 107.9 935.56 108.47 933.83 109.03 932.1 109.8 930.66 110.6 929.18 111.53 927.77 112.53 926.5 113.5 925.13 114.69" stroke-width=".99"/>
<path d="M959.5 106.2 958.34 106.26 956.75 106.34 954.85 106.43 952.79 106.54 950.7 106.67 948.73 106.82 947 107 944.88 107.31 942.87 107.68 941 108.09 939.27 108.5 937.7 108.9 935.56 109.47 933.83 110.03 932.1 110.8 930.66 111.6 929.18 112.53 927.77 113.53 926.5 114.5 925.13 115.69" stroke-width=".99"/>
<path d="M924.63 115.19 923.47 116.4 922.3 117.8 921.32 119.07 920.31 120.49 919.35 121.96 918.5 123.4 917.79 124.8 917.17 126.21 916.65 127.61 916.2 129 915.73 131.04 915.41 133.08 915.2 134.5" stroke-width=".99"/>
<path d="M925.63 115.19 924.47 116.4 923.3 117.8 922.32 119.07 921.31 120.49 920.35 121.96 919.5 123.4 918.79 124.8 918.17 126.21 917.65 127.61 917.2 129 916.73 131.04 916.41 133.08 916.2 134.5" stroke-width=".99"/>
<path d="M959.5 70.1 960.85 70.3 962.76 70.6 964.99 70.94 967.28 71.26 969.4 71.5 971.37 71.62 973.35 71.65 975.31 71.67 977.21 71.76 979 72 980.68 72.4 982.26 72.9 983.78 73.49 985.25 74.16 986.7 74.9 988.15 75.74 989.58 76.68 990.97 77.69 992.28 78.71 993.5 79.7 994.89 80.86 996.14 81.98" stroke-width=".99"/>
<path d="M959.5 71.1 960.85 71.3 962.76 71.6 964.99 71.94 967.28 72.26 969.4 72.5 971.37 72.62 973.35 72.65 975.31 72.67 977.21 72.76 979 73 980.68 73.4 982.26 73.9 983.78 74.49 985.25 75.16 986.7 75.9 988.15 76.74 989.58 77.68 990.97 78.69 992.28 79.71 993.5 80.7 994.89 81.86 996.14 82.98" stroke-width=".99"/>
<path d="M995.64 82.48 996.78 83.67 997.8 85 998.69 86.5 999.46 88.13 1000.12 89.87 1000.7 91.7 1001.11 93.39 1001.47 95.3 1001.78 97.2 1002.02 98.85 1002.2 100" stroke-width=".99"/>
<path d="M996.64 82.48 997.78 83.67 998.8 85 999.69 86.5 1000.46 88.13 1001.12 89.87 1001.7 91.7 1002.11 93.39 1002.47 95.3 1002.78 97.2 1003.02 98.85 1003.2 100" stroke-width=".99"/>
<path d="M959.5 84.5 960.68 84.57 962.32 84.68 964.27 84.8 966.37 84.93 968.47 85.06 970.39 85.19 972 85.3 974.19 85.44 975.98 85.56 977.53 85.69 979 85.9 980.66 86.21 982.07 86.62 983.8 87.4 985.2 88.16 986.81 89.13 988.49 90.19 990.1 91.25 991.5 92.2 992.95 93.17 994.2 94.04 995.3 94.93" stroke-width=".99"/>
<path d="M959.5 85.5 960.68 85.57 962.32 85.68 964.27 85.8 966.37 85.93 968.47 86.06 970.39 86.19 972 86.3 974.19 86.44 975.98 86.56 977.53 86.69 979 86.9 980.66 87.21 982.07 87.62 983.8 88.4 985.2 89.16 986.81 90.13 988.49 91.19 990.1 92.25 991.5 93.2 992.95 94.17 994.2 95.04 995.3 95.93" stroke-width=".99"/>
<path d="M994.8 95.43 995.8 96.5 996.68 97.76 997.43 99.16 998.08 100.67 998.7 102.3 999.28 104.11 999.79 106.07 1000.26 108.08 1000.7 110 1001.13 111.96 1001.53 113.98 1001.86 115.76 1002.1 117" stroke-width=".99"/>
<path d="M995.8 95.43 996.8 96.5 997.68 97.76 998.43 99.16 999.08 100.67 999.7 102.3 1000.28 104.11 1000.79 106.07 1001.26 108.08 1001.7 110 1002.13 111.96 1002.53 113.98 1002.86 115.76 1003.1 117" stroke-width=".99"/>
<path d="M959.5 98.4 960.74 98.49 962.44 98.6 964.47 98.74 966.7 98.89 969 99.05 971.23 99.21 973.28 99.36 975 99.5 977.29 99.7 979.3 99.89 981.06 100.08 982.55 100.25 983.8 100.4 985.19 100.44 986.3 100.9 987.72 101.68 989.5 102.74 991.33 103.93 992.9 105.1 994.14 106.24" stroke-width=".99"/>
<path d="M959.5 99.4 960.74 99.49 962.44 99.6 964.47 99.74 966.7 99.89 969 100.05 971.23 100.21 973.28 100.36 975 100.5 977.29 100.7 979.3 100.89 981.06 101.08 982.55 101.25 983.8 101.4 985.19 101.44 986.3 101.9 987.72 102.68 989.5 103.74 991.33 104.93 992.9 106.1 994.14 107.24" stroke-width=".99"/>
<path d="M993.64 106.74 994.71 107.92 995.65 109.11 996.5 110.3 997.44 111.8 998.2 113.3 998.9 115 999.42 116.52 999.92 118.2 1000.38 119.9 1000.8 121.5 1001.33 123.61 1001.79 125.61 1002.1 127" stroke-width=".99"/>
<path d="M994.64 106.74 995.71 107.92 996.65 109.11 997.5 110.3 998.44 111.8 999.2 113.3 999.9 115 1000.42 116.52 1000.92 118.2 1001.38 119.9 1001.8 121.5 1002.33 123.61 1002.79 125.61 1003.1 127" stroke-width=".99"/>
<path d="M959.5 112.4 960.7 112.5 962.38 112.63 964.37 112.78 966.51 112.95 968.66 113.13 970.64 113.32 972.3 113.5 974.59 113.83 976.5 114.18 978.18 114.54 979.8 114.9 981.81 115.3 983.6 115.69 985.4 116.3 986.82 116.97 988.26 117.77 989.66 118.67 991 119.6 992.28 120.6 993.52 121.67 994.68 122.76" stroke-width=".99"/>
<path d="M959.5 113.4 960.7 113.5 962.38 113.63 964.37 113.78 966.51 113.95 968.66 114.13 970.64 114.32 972.3 114.5 974.59 114.83 976.5 115.18 978.18 115.54 979.8 115.9 981.81 116.3 983.6 116.69 985.4 117.3 986.82 117.97 988.26 118.77 989.66 119.67 991 120.6 992.28 121.6 993.52 122.67 994.68 123.76" stroke-width=".99"/>
<path d="M994.18 123.26 995.2 124.3 996.31 125.57 997.21 126.78 998 128 998.69 129.19 999.27 130.4 999.8 131.8 1000.31 133.59 1000.79 135.58 1001.2 137.4 1001.57 139.03 1001.89 140.49 1002.1 141.5" stroke-width=".99"/>
<path d="M995.18 123.26 996.2 124.3 997.31 125.57 998.21 126.78 999 128 999.69 129.19 1000.27 130.4 1000.8 131.8 1001.31 133.59 1001.79 135.58 1002.2 137.4 1002.57 139.03 1002.89 140.49 1003.1 141.5" stroke-width=".99"/>
<line x1="864" y1="55.5" x2="891" y2="55.5"/>
<line x1="891" y1="55.5" x2="926" y2="87.5" stroke-width="0.99"/>
<polygon points="926,87.5 919.96,83.73 921.72,81.81" fill="#fff" stroke="none"/>
<text transform="translate(873.5 43) scale(0.4 1)" font-size="12" x="-18 0 18" y="4.08">R10</text>
<line x1="900.7" y1="52.5" x2="929.8" y2="52.5"/>
<line x1="929.8" y1="52.5" x2="948.4" y2="80.5" stroke-width="0.99"/>
<polygon points="936.5,62.5 931.51,57.42 933.66,55.97" fill="#fff" stroke="none"/>
<text transform="translate(908 40) scale(0.4 1)" font-size="12" x="-18 0 18" y="4.08">R11</text>
<line x1="1004" y1="54.5" x2="1044.2" y2="54.5"/>
<line x1="1004" y1="54.5" x2="973.3" y2="103.8" stroke-width="0.99"/>
<text transform="translate(1028 43.5) scale(0.4 1)" font-size="12" x="-34 -17 0 17 34" y="4.08">2-R22</text>
<line x1="976.8" y1="114" x2="959.5" y2="247.2" stroke-width="0.99"/>
<text transform="translate(955.6 181) rotate(-83) scale(0.4 1)" font-size="12" x="-36.88 -22.13 -7.38 7.38 22.13 36.88" y="4.08">2-R100</text>
<line x1="933" y1="392.5" x2="985.5" y2="392.5"/>
<rect x="938" y="392" width="6" height="2" fill="#fff" stroke="none"/>
<rect x="974" y="392" width="6" height="2" fill="#fff" stroke="none"/>
<line x1="915" y1="417.5" x2="1004" y2="417.5"/>
<rect x="920" y="417" width="6" height="2" fill="#fff" stroke="none"/>
<rect x="992" y="417" width="6" height="2" fill="#fff" stroke="none"/>
<text transform="translate(959.5 379.5) scale(0.4 1)" font-size="12" x="-8.19 8.19" y="4.08">38</text>
<text transform="translate(959.5 405) scale(0.4 1)" font-size="12" x="-8.19 8.19" y="4.08">64</text>
<text transform="translate(800 379.3) scale(0.4 1)" font-size="16" x="-31.88 -10.62 10.62 31.88" y="5.44" style='font-family:"Liberation Mono",monospace;'>VIII</text>
<text transform="translate(839.5 379.3) scale(0.4 1)" font-size="16" x="-10.62 10.62" y="5.44" style='font-family:"Liberation Mono",monospace;'>VI</text>
<text transform="translate(866.5 379.3) scale(0.4 1)" font-size="16" x="-10.62 10.62" y="5.44" style='font-family:"Liberation Mono",monospace;'>IV</text>
<text transform="translate(896 379.3) scale(0.4 1)" font-size="16" x="-10.62 10.62" y="5.44" style='font-family:"Liberation Mono",monospace;'>II</text>
<text transform="translate(1028.6 379.3) scale(0.4 1)" font-size="16" x="0" y="5.44" style='font-family:"Liberation Mono",monospace;'>I</text>
<text transform="translate(1058.7 379.3) scale(0.4 1)" font-size="16" x="-21.25 0 21.25" y="5.44" style='font-family:"Liberation Mono",monospace;'>III</text>
<text transform="translate(1087.4 379.3) scale(0.4 1)" font-size="16" x="0" y="5.44" style='font-family:"Liberation Mono",monospace;'>V</text>
<text transform="translate(1115.8 379.3) scale(0.4 1)" font-size="16" x="-21.25 0 21.25" y="5.44" style='font-family:"Liberation Mono",monospace;'>VII</text>
</g>
<g id="circles">
<path d="M895.21 618.61 A57 57 0 0 0 895.21 537.99" stroke-width=".99"/>
<path d="M896.21 618.61 A57 57 0 0 0 896.21 537.99" stroke-width=".99"/>
<path d="M895.71 537.49 A57 57 0 0 0 815.09 537.49" stroke-width=".99"/>
<path d="M895.71 538.49 A57 57 0 0 0 815.09 538.49" stroke-width=".99"/>
<path d="M814.59 537.99 A57 57 0 0 0 814.59 618.61" stroke-width=".99"/>
<path d="M815.59 537.99 A57 57 0 0 0 815.59 618.61" stroke-width=".99"/>
<path d="M815.09 618.11 A57 57 0 0 0 895.71 618.11" stroke-width=".99"/>
<path d="M815.09 619.11 A57 57 0 0 0 895.71 619.11" stroke-width=".99"/>
<line x1="793.2" y1="578.5" x2="840.9" y2="578.5"/>
<line x1="850.2" y1="578.5" x2="860.6" y2="578.5"/>
<line x1="870.3" y1="578.5" x2="918.7" y2="578.5"/>
<line x1="855.5" y1="514.3" x2="855.5" y2="640"/>
<line x1="807.3" y1="608.7" x2="903.1" y2="548.9" stroke-width="0.99"/>
<polygon points="903.1,548.9 897.85,553.71 896.47,551.51" fill="#fff" stroke="none"/>
<polygon points="807.3,608.7 812.55,603.89 813.93,606.09" fill="#fff" stroke="none"/>
<text transform="translate(874.8 551.3) rotate(-32) scale(0.4 1)" font-size="12" x="-18.5 0 18.5" y="4.08">Φ42</text>
<text transform="translate(844.3 474.6) scale(0.4 1)" font-size="12" x="-36.88 -22.13 -7.38 7.38 22.13 36.88" y="4.08">IX-IX'</text>
<line x1="821.9" y1="486.5" x2="890" y2="486.5"/>
<line x1="847.5" y1="496.4" x2="847.5" y2="504"/>
<line x1="860.5" y1="496.4" x2="860.5" y2="504"/>
<path d="M1100.49 615.09 A63.2 63.2 0 0 0 1100.49 525.71" stroke-width=".99"/>
<path d="M1101.49 615.09 A63.2 63.2 0 0 0 1101.49 525.71" stroke-width=".99"/>
<path d="M1100.99 525.21 A63.2 63.2 0 0 0 1011.61 525.21" stroke-width=".99"/>
<path d="M1100.99 526.21 A63.2 63.2 0 0 0 1011.61 526.21" stroke-width=".99"/>
<path d="M1011.11 525.71 A63.2 63.2 0 0 0 1011.11 615.09" stroke-width=".99"/>
<path d="M1012.11 525.71 A63.2 63.2 0 0 0 1012.11 615.09" stroke-width=".99"/>
<path d="M1011.61 614.59 A63.2 63.2 0 0 0 1100.99 614.59" stroke-width=".99"/>
<path d="M1011.61 615.59 A63.2 63.2 0 0 0 1100.99 615.59" stroke-width=".99"/>
<line x1="987.8" y1="570.5" x2="1041.4" y2="570.5"/>
<line x1="1050.8" y1="570.5" x2="1062.2" y2="570.5"/>
<line x1="1071.5" y1="570.5" x2="1123.4" y2="570.5"/>
<line x1="1056.5" y1="502.2" x2="1056.5" y2="637.8"/>
<line x1="1002.4" y1="601.8" x2="1108.9" y2="538.5" stroke-width="0.99"/>
<polygon points="1108.9,538.5 1103.54,543.19 1102.22,540.96" fill="#fff" stroke="none"/>
<polygon points="1002.4,601.8 1007.76,597.11 1009.08,599.34" fill="#fff" stroke="none"/>
<text transform="translate(1073.6 545.5) rotate(-31) scale(0.4 1)" font-size="12" x="-18.5 0 18.5" y="4.08">Φ46</text>
<text transform="translate(1048 459.3) scale(0.4 1)" font-size="12" x="-31.12 -10.38 10.38 31.12" y="4.08">X-X'</text>
<line x1="1025.9" y1="472.5" x2="1094" y2="472.5"/>
<line x1="1050.5" y1="482.2" x2="1050.5" y2="490.1"/>
<line x1="1062.5" y1="482.2" x2="1062.5" y2="490.1"/>
<text transform="translate(873.5 474.6) scale(0.75 1)" font-size="11" x="-7.67 7.67" y="3.74" style='font-family:"Liberation Sans","Noto Sans CJK SC",sans-serif;stroke-width:0.2px;'>剖面</text>
<text transform="translate(1075.5 459.3) scale(0.75 1)" font-size="11" x="-7.67 7.67" y="3.74" style='font-family:"Liberation Sans","Noto Sans CJK SC",sans-serif;stroke-width:0.2px;'>剖面</text>
</g>
<g id="title">
<line x1="656" y1="655" x2="877" y2="655" stroke-width="2"/>
<line x1="656" y1="674" x2="877" y2="674" stroke-width="2"/>
<line x1="656" y1="694" x2="877" y2="694" stroke-width="2"/>
<line x1="656" y1="713" x2="877" y2="713" stroke-width="2"/>
<line x1="656" y1="732" x2="877" y2="732" stroke-width="2"/>
<line x1="656" y1="752" x2="877" y2="752" stroke-width="2"/>
<line x1="656" y1="771" x2="877" y2="771" stroke-width="2"/>
<line x1="656" y1="790" x2="877" y2="790" stroke-width="2"/>
<line x1="656" y1="655" x2="1153" y2="655" stroke-width="2"/>
<line x1="656" y1="655" x2="656" y2="810" stroke-width="2"/>
<line x1="684" y1="655" x2="684" y2="731.5" stroke-width="2"/>
<line x1="711" y1="655" x2="711" y2="731.5" stroke-width="2"/>
<line x1="755" y1="655" x2="755" y2="731.5" stroke-width="2"/>
<line x1="800" y1="655" x2="800" y2="810" stroke-width="2"/>
<line x1="834" y1="655" x2="834" y2="810" stroke-width="2"/>
<line x1="877" y1="655" x2="877" y2="810" stroke-width="2"/>
<line x1="689" y1="731.5" x2="689" y2="810" stroke-width="2"/>
<line x1="722" y1="731.5" x2="722" y2="810" stroke-width="2"/>
<line x1="766" y1="731.5" x2="766" y2="810" stroke-width="2"/>
<line x1="1015" y1="655" x2="1015" y2="810" stroke-width="2"/>
<line x1="1015" y1="705" x2="1153" y2="705" stroke-width="2"/>
<line x1="877" y1="760" x2="1153" y2="760" stroke-width="2"/>
<line x1="877" y1="732" x2="1015" y2="732" stroke-width="2"/>
<line x1="877" y1="785" x2="1015" y2="785" stroke-width="2"/>
<line x1="949" y1="732" x2="949" y2="785" stroke-width="2"/>
<line x1="982" y1="732" x2="982" y2="785" stroke-width="2"/>
<line x1="895.5" y1="760" x2="895.5" y2="785"/>
<line x1="913.5" y1="760" x2="913.5" y2="785"/>
<line x1="931.5" y1="760" x2="931.5" y2="785"/>
<text transform="translate(669.8 723) scale(0.64 1)" font-size="9" x="-5.16 5.16" y="3.06" style='font-family:"Liberation Sans","Noto Sans CJK SC",sans-serif;stroke-width:0.2px;'>标记</text>
<text transform="translate(697 723) scale(0.64 1)" font-size="9" x="-5.08 5.08" y="3.06" style='font-family:"Liberation Sans","Noto Sans CJK SC",sans-serif;stroke-width:0.2px;'>处数</text>
<text transform="translate(733.3 723) scale(0.64 1)" font-size="9" x="-8.59 8.59" y="3.06" style='font-family:"Liberation Sans","Noto Sans CJK SC",sans-serif;stroke-width:0.2px;'>分区</text>
<text transform="translate(776.5 723) scale(0.64 1)" font-size="9" x="-20.94 -10.47 0 10.47 20.94" y="3.06" style='font-family:"Liberation Sans","Noto Sans CJK SC",sans-serif;stroke-width:0.2px;'>更改文件号</text>
<text transform="translate(815.2 723) scale(0.64 1)" font-size="9" x="-8.2 8.2" y="3.06" style='font-family:"Liberation Sans","Noto Sans CJK SC",sans-serif;stroke-width:0.2px;'>签名</text>
<text transform="translate(854.3 723) scale(0.64 1)" font-size="9" x="-20.94 -10.47 0 10.47 20.94" y="3.06" style='font-family:"Liberation Sans","Noto Sans CJK SC",sans-serif;stroke-width:0.2px;'>年.月.日</text>
<text transform="translate(672.6 741.8) scale(0.64 1)" font-size="9" x="-8.2 8.2" y="3.06" style='font-family:"Liberation Sans","Noto Sans CJK SC",sans-serif;stroke-width:0.2px;'>设计</text>
<text transform="translate(782.7 741.8) scale(0.64 1)" font-size="9" x="-10.62 0 10.62" y="3.06" style='font-family:"Liberation Sans","Noto Sans CJK SC",sans-serif;stroke-width:0.2px;'>标准化</text>
<text transform="translate(672.6 780.7) scale(0.64 1)" font-size="9" x="-8.2 8.2" y="3.06" style='font-family:"Liberation Sans","Noto Sans CJK SC",sans-serif;stroke-width:0.2px;'>审核</text>
<text transform="translate(672.6 800.4) scale(0.64 1)" font-size="9" x="-8.2 8.2" y="3.06" style='font-family:"Liberation Sans","Noto Sans CJK SC",sans-serif;stroke-width:0.2px;'>工艺</text>
<text transform="translate(782.4 800.4) scale(0.64 1)" font-size="9" x="-8.2 8.2" y="3.06" style='font-family:"Liberation Sans","Noto Sans CJK SC",sans-serif;stroke-width:0.2px;'>批准</text>
<text transform="translate(912.6 746.7) scale(0.64 1)" font-size="9" x="-25.55 -8.52 8.52 25.55" y="3.06" style='font-family:"Liberation Sans","Noto Sans CJK SC",sans-serif;stroke-width:0.2px;'>阶段标记</text>
<text transform="translate(964.6 746.7) scale(0.64 1)" font-size="9" x="-7.66 7.66" y="3.06" style='font-family:"Liberation Sans","Noto Sans CJK SC",sans-serif;stroke-width:0.2px;'>重量</text>
<text transform="translate(998.2 746.7) scale(0.64 1)" font-size="9" x="-7.81 7.81" y="3.06" style='font-family:"Liberation Sans","Noto Sans CJK SC",sans-serif;stroke-width:0.2px;'>比例</text>
<text transform="translate(997.4 771.8) scale(0.5 1)" font-size="10.5" x="-12 0 12" y="3.57">1:2</text>
<text transform="translate(896.8 797.8) scale(0.64 1)" font-size="9" x="0" y="3.06" style='font-family:"Liberation Sans","Noto Sans CJK SC",sans-serif;stroke-width:0.2px;'>共</text>
<text transform="translate(925.4 797.8) scale(0.64 1)" font-size="9" x="0" y="3.06" style='font-family:"Liberation Sans","Noto Sans CJK SC",sans-serif;stroke-width:0.2px;'>张</text>
<text transform="translate(966.2 797.8) scale(0.64 1)" font-size="9" x="0" y="3.06" style='font-family:"Liberation Sans","Noto Sans CJK SC",sans-serif;stroke-width:0.2px;'>第</text>
<text transform="translate(994.5 797.8) scale(0.64 1)" font-size="9" x="0" y="3.06" style='font-family:"Liberation Sans","Noto Sans CJK SC",sans-serif;stroke-width:0.2px;'>张</text>
<text transform="translate(1083.3 732.3) scale(0.66 1)" font-size="26" x="-60 -30 0 30 60" y="8.84" style='font-family:"Liberation Serif","Noto Serif CJK SC",serif;font-weight:300;stroke-width:0.3px;'>蜗壳木模图</text>
<text transform="translate(1084.2 784.8) scale(0.48 1)" font-size="28" x="-90.83 -68.13 -45.42 -22.71 0 22.71 45.42 68.13 90.83" y="9.52" style='font-family:"Liberation Serif","Noto Serif CJK SC",serif;stroke-width:0.4px;'>50ZJ33-2M</text>
</g>
</svg></body></html>
